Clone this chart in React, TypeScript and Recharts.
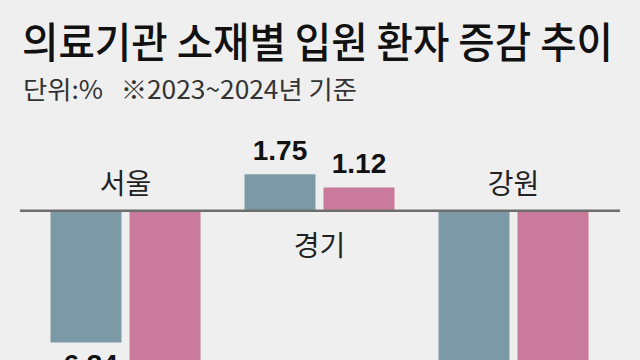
import React from 'react';
import { BarChart, Bar, XAxis, YAxis, ReferenceLine, LabelList } from 'recharts';

const categories = ['서울', '경기', '강원'];
const seriesA = [-6.34, 1.75, -8.87];
const seriesB = [-7.95, 1.12, -8.66];
const title = '의료기관 소재별 입원 환자 증감 추이';
const subtitle = '단위:%   ※2023~2024년 기준';

const data = categories.map((c, i) => ({ name: c, a: seriesA[i], b: seriesB[i] }));

const VIEW_H = 360;
const BG = '#efefef';
const BLUE = '#7c9aa5';
const PINK = '#ca7a9a';
const FONT_KR = '"Noto Sans CJK KR", "Noto Sans", sans-serif';
const FONT_NUM = '"Liberation Sans", Arial, sans-serif';

const fmt = (v: number) => (v < 0 ? '-' : '') + Math.abs(v).toFixed(2);

const renderValue = (props: any) => {
  const { x, y, width, height, value } = props;
  const top = Math.min(y, y + height);
  const bottom = Math.max(y, y + height);
  const cx = x + width / 2;
  const ty = value >= 0 ? top - 14 : bottom + 31;
  if (ty - 21 > VIEW_H - 4) return null;
  return (
    <text x={cx} y={ty} textAnchor="middle" fontFamily={FONT_NUM} fontWeight="bold" fontSize={28} fill="#111">
      {fmt(value)}
    </text>
  );
};

const renderCategory = (props: any) => {
  const { x, y, width, height, value, index } = props;
  const zeroY = value >= 0 ? Math.max(y, y + height) : Math.min(y, y + height);
  const cx = x + width + 4;
  const ty = value >= 0 ? zeroY + 45 : zeroY - 17;
  return (
    <text x={cx} y={ty} textAnchor="middle" fontFamily={FONT_KR} fontSize={28} fill="#222">
      {categories[index]}
    </text>
  );
};

export default function App() {
  return (
    <div style={{ position: 'fixed', left: 0, top: 0, width: 640, height: VIEW_H, overflow: 'hidden', background: BG }}>
      <BarChart
        width={640}
        height={460}
        data={data}
        margin={{ top: 148.3, right: 20, bottom: 41.3, left: 20 }}
        barSize={71}
        barGap={8}
      >
        <XAxis dataKey="name" hide padding={{ left: 8.5, right: 9.5 }} />
        <YAxis hide domain={[-10, 3]} />
        <Bar dataKey="a" fill={BLUE} isAnimationActive={false}>
          <LabelList dataKey="a" content={renderValue} />
          <LabelList dataKey="a" content={renderCategory} />
        </Bar>
        <Bar dataKey="b" fill={PINK} isAnimationActive={false}>
          <LabelList dataKey="b" content={renderValue} />
        </Bar>
        <ReferenceLine y={0} stroke="#6e6e6e" strokeWidth={2.5} ifOverflow="extendDomain" />
      </BarChart>
      <svg width={640} height={VIEW_H} style={{ position: 'absolute', left: 0, top: 0, pointerEvents: 'none' }}>
        <g transform="translate(22,58) scale(1,1.13)">
          <text x={0} y={0} fontFamily={FONT_KR} fontWeight={500} fontSize={37} fill="#111" textLength={591} lengthAdjust="spacingAndGlyphs">
            {title}
          </text>
        </g>
        <text x={23} y={99} fontFamily={FONT_KR} fontSize={25} fill="#333" textLength={334} lengthAdjust="spacingAndGlyphs" style={{ whiteSpace: 'pre' }}>
          {subtitle}
        </text>
      </svg>
    </div>
  );
}
